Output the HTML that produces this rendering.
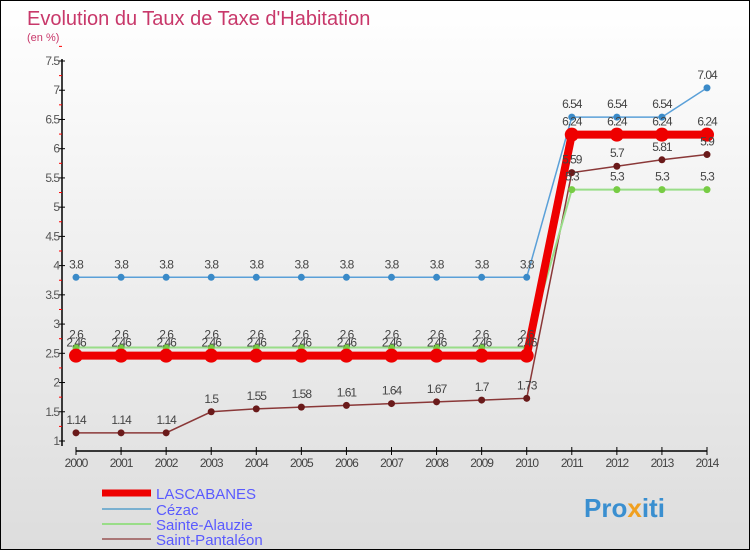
<!DOCTYPE html>
<html><head><meta charset="utf-8"><style>
body{margin:0;}
#c{width:748px;height:548px;border:1px solid #000;background:linear-gradient(#fff,#ddd);position:relative;overflow:hidden;font-family:"Liberation Sans",sans-serif;}
</style></head><body>
<div id="c">
<svg id="s" width="748" height="548" xmlns="http://www.w3.org/2000/svg">
<text x="26" y="24" font-size="20" fill="#c8386a">Evolution du Taux de Taxe d'Habitation</text>
<text x="26" y="40" font-size="11" fill="#c8386a">(en %)</text>
<g id="axes"></g><g id="series"></g><g id="labels"></g>
<g>
<line x1="101" y1="492" x2="150" y2="492" stroke="#e00" stroke-width="7"/>
<text x="155" y="498" font-size="15" fill="#5a5aff">LASCABANES</text>
<line x1="101" y1="508" x2="150" y2="508" stroke="#7ab0d0" stroke-width="2"/>
<text x="155" y="514" font-size="15" fill="#5a5aff">Cézac</text>
<line x1="101" y1="523" x2="150" y2="523" stroke="#9d8" stroke-width="2"/>
<text x="155" y="529" font-size="15" fill="#5a5aff">Sainte-Alauzie</text>
<line x1="101" y1="538" x2="150" y2="538" stroke="#a77" stroke-width="2"/>
<text x="155" y="544" font-size="15" fill="#5a5aff">Saint-Pantaléon</text>
</g>
<text x="583" y="516" font-size="26" font-weight="bold" fill="#3a8fd0">Pro<tspan fill="#f0a020">x</tspan>iti</text>
</svg>
</div>
<script>
const years=[2000,2001,2002,2003,2004,2005,2006,2007,2008,2009,2010,2011,2012,2013,2014];
const yTicks=[1,1.5,2,2.5,3,3.5,4,4.5,5,5.5,6,6.5,7,7.5];
const lascabanes=[2.46,2.46,2.46,2.46,2.46,2.46,2.46,2.46,2.46,2.46,2.46,6.24,6.24,6.24,6.24];
const cezac=[3.8,3.8,3.8,3.8,3.8,3.8,3.8,3.8,3.8,3.8,3.8,6.54,6.54,6.54,7.04];
const sainteAlauzie=[2.6,2.6,2.6,2.6,2.6,2.6,2.6,2.6,2.6,2.6,2.6,5.3,5.3,5.3,5.3];
const saintPantaleon=[1.14,1.14,1.14,1.5,1.55,1.58,1.61,1.64,1.67,1.7,1.73,5.59,5.7,5.81,5.9];
const NS="http://www.w3.org/2000/svg";
const X=i=>75+i*(706-75)/14;
const Y=v=>60+(7.5-v)*(380/6.5);
function mk(t,a,p){const e=document.createElementNS(NS,t);for(const k in a)e.setAttribute(k,a[k]);p.appendChild(e);return e;}
const ax=document.getElementById('axes');
let a=mk('line',{x1:61,y1:58,x2:61,y2:445,stroke:'#000','stroke-width':1.5},ax);


a=mk('line',{x1:75,y1:450,x2:706,y2:450,stroke:'#000','stroke-width':1.5},ax);


yTicks.forEach(v=>{
 mk('line',{x1:58,y1:Y(v),x2:64,y2:Y(v),stroke:'#000'},ax);
 mk('line',{x1:58,y1:Y(v+0.25),x2:61,y2:Y(v+0.25),stroke:'#f00'},ax);
 const t=mk('text',{x:58,y:Y(v)+4,'font-size':12,fill:'#555','text-anchor':'end','letter-spacing':'-1'},ax);
 t.textContent=v;
 
 
});
years.forEach((yr,i)=>{
 mk('line',{x1:X(i),y1:446,x2:X(i),y2:454,stroke:'#000'},ax);
 const t=mk('text',{x:X(i),y:466,'font-size':12,fill:'#444','text-anchor':'middle','letter-spacing':'-1'},ax);
 t.textContent=yr;
 
 
});
const sg=document.getElementById('series');
const lg=document.getElementById('labels');
function series(d,name,col,dot,w,r,lab){
 const g=mk('g',{},sg);
 
 
 const l=mk('polyline',{points:d.map((v,i)=>X(i)+','+Y(v)).join(' '),fill:'none',stroke:col,'stroke-width':w},g);
 
 
 d.forEach((v,i)=>{
  const c=mk('circle',{cx:X(i),cy:Y(v),r:r,fill:dot},g);
  
  
  const t=mk('text',{x:X(i),y:Y(v)-lab,'font-size':12,fill:'#444','text-anchor':'middle','letter-spacing':'-1'},lg);
  t.textContent=v;
  
  
 });
}
series(saintPantaleon,'saint-pantaleon','#8a3838','#6a1a1a',1.5,3.5,9);
series(sainteAlauzie,'sainte-alauzie','#9d8','#7c4',2,3.5,9);
series(cezac,'cezac','#5aa0d8','#3a8ac8',1.5,3.5,9);
series(lascabanes,'lascabanes','#e00','#e00',8,7,9);
</script>
</body></html>
